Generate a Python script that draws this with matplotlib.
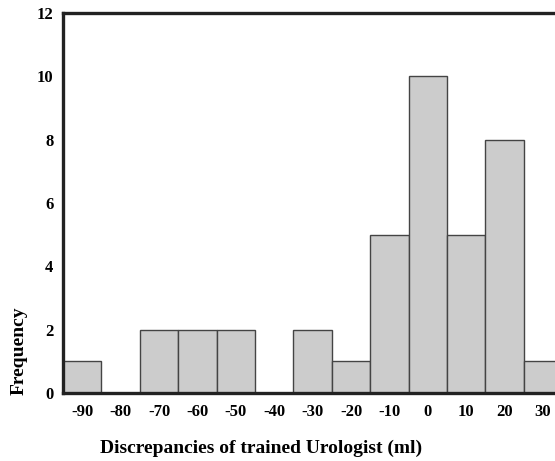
import matplotlib.pyplot as plt

# histogram bins (centres, width 10 ml) and counts
bin_centres = [-90, -80, -70, -60, -50, -40, -30, -20, -10, 0, 10, 20, 30]
counts = [1, 0, 2, 2, 2, 0, 2, 1, 5, 10, 5, 8, 1]
x_ticks = [-90, -80, -70, -60, -50, -40, -30, -20, -10, 0, 10, 20, 30]
y_ticks = [0, 2, 4, 6, 8, 10, 12]

plt.rcParams['font.family'] = ['Liberation Serif', 'DejaVu Serif']
plt.rcParams['axes.unicode_minus'] = False

fig = plt.figure(figsize=(5.55, 4.61), dpi=100)
ax = fig.add_axes([0.1135, 0.1475, 0.8865, 0.8245])

ax.bar(bin_centres, counts, width=10, color='#cccccc', edgecolor='#444444',
       linewidth=1.0, zorder=2)

ax.set_xlim(-95, 33.1)
ax.set_ylim(0, 12)
ax.set_xticks(x_ticks)
ax.set_yticks(y_ticks)
ax.tick_params(length=0, labelsize=12)
ax.tick_params(axis='x', pad=8)
ax.tick_params(axis='y', pad=7)
for lab in ax.get_xticklabels() + ax.get_yticklabels():
    lab.set_fontweight('bold')

for side in ['left', 'top', 'bottom']:
    ax.spines[side].set_linewidth(2.4)
    ax.spines[side].set_color('#222222')
    ax.spines[side].set_zorder(3)
ax.spines['right'].set_visible(False)

fig.text(0.034, 0.24, 'Frequency', rotation=90, ha='center', va='center',
         fontsize=14, fontweight='bold')
fig.text(0.47, 0.028, 'Discrepancies of trained Urologist (ml)', ha='center',
         va='center', fontsize=14, fontweight='bold')

fig.savefig('out.png', dpi=100)
